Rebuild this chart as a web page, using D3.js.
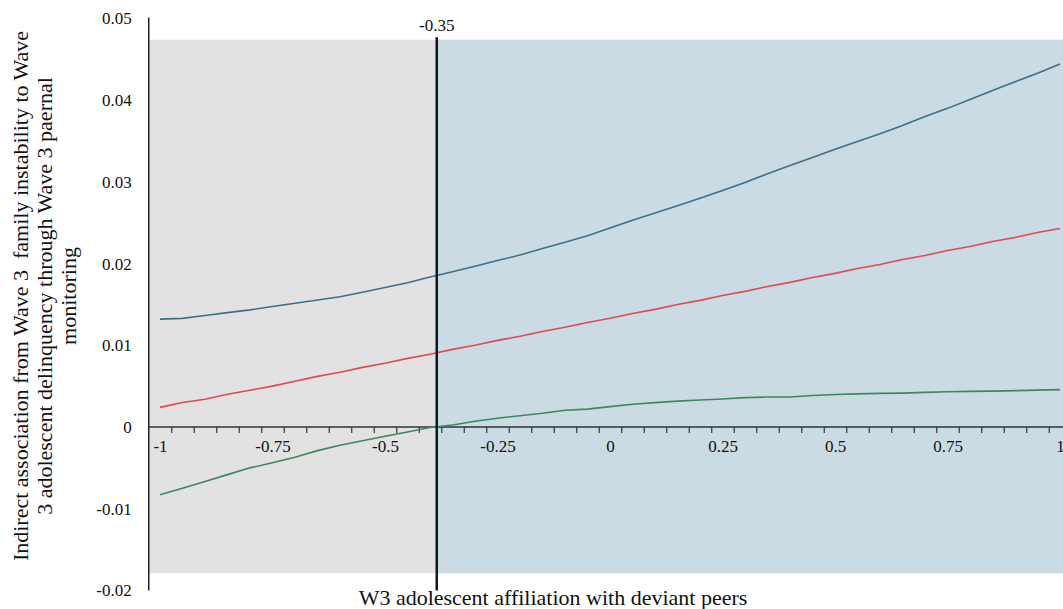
<!DOCTYPE html>
<html>
<head>
<meta charset="utf-8">
<script src="https://cdn.jsdelivr.net/npm/d3@7"></script>
<style>
  body { margin: 0; background: #fff; }
  text { font-family: "Liberation Serif", "Times New Roman", serif; fill: #111; }
</style>
</head>
<body>
<svg width="1063" height="609"></svg>
<script>
// categories on the x axis (-1 .. 1 step 0.05)
var categories = [-1, -0.95, -0.9, -0.85, -0.8, -0.75, -0.7, -0.65, -0.6, -0.55, -0.5, -0.45, -0.4, -0.35, -0.3,
    -0.25, -0.2, -0.15, -0.1, -0.05, 0, 0.05, 0.1, 0.15, 0.2, 0.25, 0.3, 0.35, 0.4, 0.45, 0.5, 0.55, 0.6,
    0.65, 0.7, 0.75, 0.8, 0.85, 0.9, 0.95, 1];

// upper bound, estimate, lower bound
var upperValues = [0.0132, 0.0133, 0.01365, 0.0140, 0.01434, 0.01475, 0.01514, 0.01554, 0.01594, 0.0165,
    0.01707, 0.01765, 0.01837, 0.0190, 0.01967, 0.02037, 0.02105, 0.02184, 0.02262, 0.0234, 0.02436,
    0.0253, 0.0262, 0.02708, 0.0280, 0.02896, 0.02992, 0.0310, 0.0320, 0.0330, 0.0340, 0.03495, 0.0359,
    0.0369, 0.0380, 0.0390, 0.0401, 0.0412, 0.04225, 0.0433, 0.04443];
var estimateValues = [0.0024, 0.0030, 0.0034, 0.0040, 0.0045, 0.0050, 0.0056, 0.0062, 0.0067, 0.0073,
    0.0078, 0.0084, 0.0089, 0.0095, 0.0100, 0.0106, 0.0111, 0.0117, 0.0122, 0.0128, 0.0133, 0.0139,
    0.0144, 0.0150, 0.0155, 0.0161, 0.0166, 0.0172, 0.0177, 0.0183, 0.0188, 0.0194, 0.0199, 0.0205,
    0.0210, 0.0216, 0.0221, 0.0227, 0.0232, 0.0238, 0.0243];
var lowerValues = [-0.0083, -0.0075, -0.00666, -0.00583, -0.0050, -0.00438, -0.0037, -0.00289, -0.00223,
    -0.00168, -0.00114, -0.00061, -0.00007, 0.00025, 0.00071, 0.00108, 0.00138, 0.00168, 0.00205,
    0.00219, 0.00249, 0.00279, 0.00298, 0.00317, 0.0033, 0.00343, 0.00359, 0.00367, 0.00367, 0.00385,
    0.00397, 0.00406, 0.00411, 0.00415, 0.00424, 0.00432, 0.00436, 0.00439, 0.00445, 0.00451, 0.00457];

var xTickLabels = [-1, -0.75, -0.5, -0.25, 0, 0.25, 0.5, 0.75, 1];
var yTickLabels = [-0.02, -0.01, 0, 0.01, 0.02, 0.03, 0.04, 0.05];

// region of significance
var cutoffX = -0.385;
var cutoffLabel = "-0.35";
var shadeTop = 0.0474, shadeBottom = -0.0179;

var yTitle = ["Indirect association from Wave 3  family instability to Wave",
    "3 adolescent delinquency through Wave 3 paernal",
    "monitoring"];
var xTitle = "W3 adolescent affiliation with deviant peers";

var svg = d3.select("svg");
var serif = "Liberation Serif";

var x = d3.scaleLinear().domain([-1, 1]).range([160, 1060]);
var y = d3.scaleLinear().domain([-0.02, 0.05]).range([590.4, 18.5]);
var half = 0.025; // half category width

// shaded regions
svg.append("rect")
    .attr("x", x(-1 - half))
    .attr("y", y(shadeTop))
    .attr("width", x(cutoffX) - x(-1 - half))
    .attr("height", y(shadeBottom) - y(shadeTop))
    .attr("fill", "#e2e2e2");
svg.append("rect")
    .attr("x", x(cutoffX))
    .attr("y", y(shadeTop))
    .attr("width", x(1 + half) - x(cutoffX))
    .attr("height", y(shadeBottom) - y(shadeTop))
    .attr("fill", "#cbdbe3");

// y axis
var yAxis = svg.append("g")
    .attr("transform", "translate(" + x(-1 - half) + ",0)")
    .call(d3.axisLeft(y).tickValues(yTickLabels).tickSize(0).tickPadding(17)
        .tickFormat(function (d) { return String(d); }));
yAxis.attr("font-family", serif).attr("font-size", 17);
yAxis.select(".domain").remove();
svg.append("line")
    .attr("x1", x(-1 - half)).attr("x2", x(-1 - half))
    .attr("y1", y(0.05) - 1).attr("y2", y(-0.02))
    .attr("stroke", "#222").attr("stroke-width", 1.5);

// x axis: ticks between categories, labels on categories
var betweenTicks = categories.slice(0, -1).map(function (c) { return c + half; });
var xAxis = svg.append("g")
    .attr("transform", "translate(0," + y(0) + ")")
    .call(d3.axisBottom(x).tickValues(betweenTicks).tickSize(6).tickFormat(""));
xAxis.select(".domain").remove();
xAxis.selectAll("line").attr("stroke", "#333").attr("stroke-width", 1.2);

var xLabels = svg.append("g")
    .attr("transform", "translate(0," + y(0) + ")")
    .call(d3.axisBottom(x).tickValues(xTickLabels).tickSize(0).tickPadding(13)
        .tickFormat(function (d) { return String(d); }));
xLabels.attr("font-family", serif).attr("font-size", 17);
xLabels.select(".domain").remove();

svg.append("line")
    .attr("x1", x(-1 - half)).attr("x2", x(1 + half))
    .attr("y1", y(0)).attr("y2", y(0))
    .attr("stroke", "#333").attr("stroke-width", 1.5);

// lines
var line = d3.line()
    .x(function (d, i) { return x(categories[i]); })
    .y(function (d) { return y(d); });

var series = [
    {values: upperValues, color: "#3f6f88"},
    {values: estimateValues, color: "#e04a4f"},
    {values: lowerValues, color: "#3e875b"}
];
svg.selectAll(".series")
    .data(series)
    .enter().append("path")
    .attr("class", "series")
    .attr("d", function (d) { return line(d.values); })
    .attr("fill", "none")
    .attr("stroke", function (d) { return d.color; })
    .attr("stroke-width", 1.6);

// cutoff line
svg.append("line")
    .attr("x1", x(cutoffX)).attr("x2", x(cutoffX))
    .attr("y1", y(0.0477)).attr("y2", y(-0.02))
    .attr("stroke", "#101820").attr("stroke-width", 2.5);
svg.append("text")
    .attr("x", x(cutoffX))
    .attr("y", 31)
    .attr("text-anchor", "middle")
    .style("font-size", "17px")
    .text(cutoffLabel);

// titles
svg.append("text")
    .attr("x", 553)
    .attr("y", 605)
    .attr("text-anchor", "middle")
    .style("font-size", "22px")
    .text(xTitle);

svg.append("text")
    .attr("transform", "translate(28,296) rotate(-90)")
    .attr("text-anchor", "middle")
    .style("font-size", "22px")
    .style("white-space", "pre")
    .selectAll("tspan")
    .data(yTitle)
    .enter().append("tspan")
    .attr("x", 0)
    .attr("dy", function (d, i) { return i === 0 ? 0 : 24; })
    .text(function (d) { return d; });
</script>
</body>
</html>
